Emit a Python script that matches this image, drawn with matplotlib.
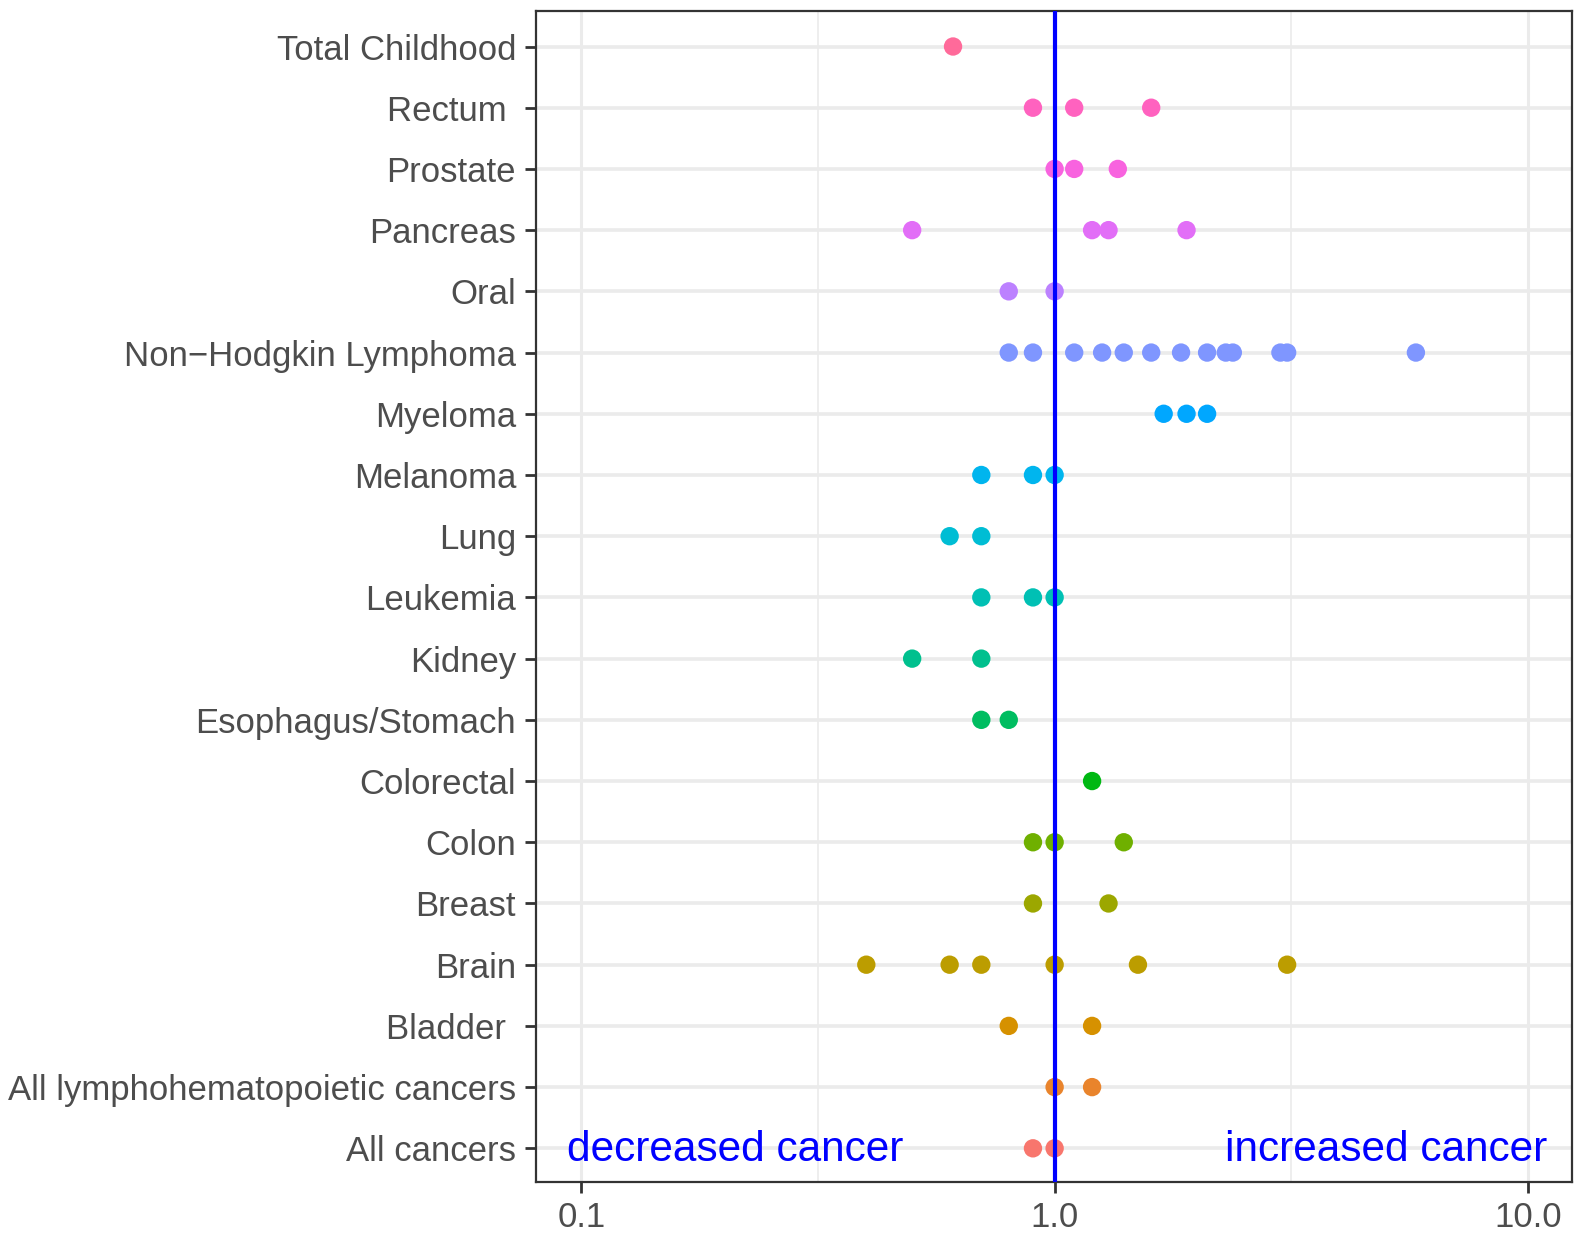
import numpy as np
import matplotlib
matplotlib.use("Agg")
import matplotlib.pyplot as plt

# ---- Data (risk estimates per cancer type, bottom to top) ----
categories = ["All cancers", "All lymphohematopoietic cancers", "Bladder ", "Brain",
              "Breast", "Colon", "Colorectal", "Esophagus/Stomach", "Kidney",
              "Leukemia", "Lung", "Melanoma", "Myeloma", "Non\u2212Hodgkin Lymphoma",
              "Oral", "Pancreas", "Prostate", "Rectum ", "Total Childhood"]

all_cancers = [0.9, 1.0]
all_lympho = [1.0, 1.2]
bladder = [0.8, 1.2]
brain = [0.4, 0.6, 0.7, 1.0, 1.5, 3.1]
breast = [0.9, 1.3]
colon = [0.9, 1.0, 1.4]
colorectal = [1.2]
esophagus_stomach = [0.7, 0.8]
kidney = [0.5, 0.7]
leukemia = [0.7, 0.9, 1.0]
lung = [0.6, 0.7]
melanoma = [0.7, 0.9, 1.0]
myeloma = [1.7, 1.9, 2.1]
nhl = [0.8, 0.9, 1.1, 1.26, 1.4, 1.6, 1.85, 2.1, 2.3, 2.38, 3.0, 3.1, 5.8]
oral = [0.8, 1.0]
pancreas = [0.5, 1.2, 1.3, 1.9]
prostate = [1.0, 1.1, 1.36]
rectum = [0.9, 1.1, 1.6]
total_childhood = [0.61]

values = [all_cancers, all_lympho, bladder, brain, breast, colon, colorectal,
          esophagus_stomach, kidney, leukemia, lung, melanoma, myeloma, nhl,
          oral, pancreas, prostate, rectum, total_childhood]

x_ticks = [0.1, 1.0, 10.0]
x_ticklabels = ["0.1", "1.0", "10.0"]


# ---- ggplot-like hue palette (polar LUV -> sRGB) ----
def hcl_hex(h, c=100, l=65):
    wu, wv, wy = 0.1978398, 0.4683363, 100.0
    U = c * np.cos(np.radians(h))
    V = c * np.sin(np.radians(h))
    Y = wy * (((l + 16) / 116) ** 3 if l > 7.999592 else l / 903.3)
    u = U / (13 * l) + wu
    v = V / (13 * l) + wv
    X = 9.0 * Y * u / (4 * v)
    Z = -X / 3 - 5 * Y + 3 * Y / v

    def gt(t):
        return 1.055 * t ** (1 / 2.4) - 0.055 if t > 0.00304 else 12.92 * t

    r = gt((3.240479 * X - 1.537150 * Y - 0.498535 * Z) / wy)
    g = gt((-0.969256 * X + 1.875992 * Y + 0.041556 * Z) / wy)
    b = gt((0.055648 * X - 0.204043 * Y + 1.057311 * Z) / wy)
    return tuple(min(max(k, 0), 1) for k in (r, g, b))


n = len(categories)
hues = np.linspace(15, 375, n + 1)[:n]
colors = [hcl_hex(h) for h in hues]

# ---- Plot ----
plt.rcParams["font.family"] = ["Liberation Sans", "DejaVu Sans"]
fig = plt.figure(figsize=(15.75, 12.36), dpi=100)
ax = fig.add_axes([0.340, 0.0437, 0.658, 0.9474])

for i, (vals, col) in enumerate(zip(values, colors)):
    ax.scatter(vals, [i] * len(vals), s=175, color=col, edgecolors="none", zorder=3)

ax.axvline(1.0, color="#0000FF", linewidth=3, zorder=4)

ax.set_xscale("log")
ax.set_xlim(10 ** -1.097, 10 ** 1.093)
ax.set_ylim(-0.55, n - 1 + 0.58)

ax.set_xticks(x_ticks)
ax.set_xticklabels(x_ticklabels)
ax.xaxis.set_minor_locator(matplotlib.ticker.NullLocator())
ax.set_yticks(range(n))
ax.set_yticklabels(categories)

# grid lines like theme_bw
for x in x_ticks:
    ax.axvline(x, color="#EBEBEB", linewidth=2.2, zorder=1)
for x in [10 ** -0.5, 10 ** 0.5]:
    ax.axvline(x, color="#EBEBEB", linewidth=1.2, zorder=1)
for i in range(n):
    ax.axhline(i, color="#EBEBEB", linewidth=2.6, zorder=1)

for sp in ax.spines.values():
    sp.set_color("#333333")
    sp.set_linewidth(1.6)

ax.tick_params(axis="both", colors="#333333", width=2, length=8,
               labelsize=25, labelcolor="#4D4D4D", pad=6)

ax.text(10 ** -1.03, -0.03, "decreased cancer", color="#0000FF", fontsize=30.5,
        ha="left", va="center", zorder=5)
ax.text(10 ** 1.04, -0.03, "increased cancer", color="#0000FF", fontsize=30.5,
        ha="right", va="center", zorder=5)

fig.savefig("out.png", dpi=100, facecolor="white")
